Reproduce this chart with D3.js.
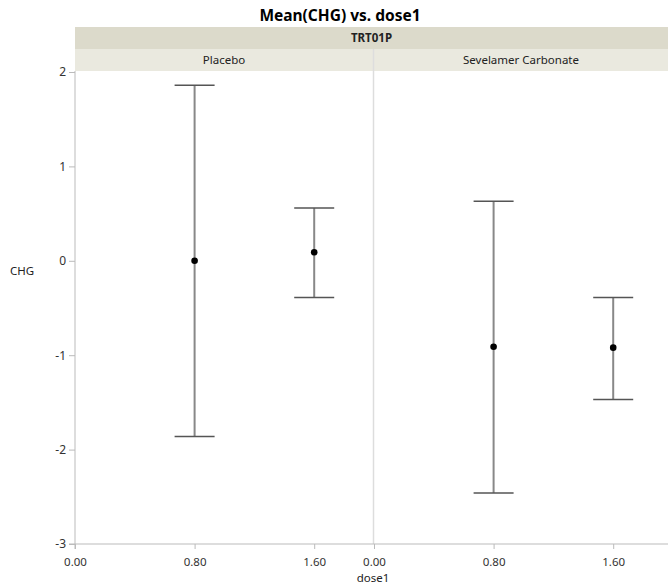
<!DOCTYPE html>
<html>
<head>
<meta charset="utf-8">
<script src="https://cdn.jsdelivr.net/npm/d3@7"></script>
<style>
  body { margin: 0; background: #fff; }
  text { font-family: 'Noto Sans', sans-serif; fill: #222; }
</style>
</head>
<body>
<div id="chart"></div>
<script>
let groups = ['Placebo', 'Sevelamer Carbonate']
let doses = [0.8, 1.6]
let means = [[0.0, 0.09], [-0.91, -0.92]]
let upper = [[1.86, 0.56], [0.63, -0.39]]
let lower = [[-1.86, -0.39], [-2.46, -1.47]]
let xTicks = [0, 0.8, 1.6]
let yTicks = [2, 1, 0, -1, -2, -3]

let width = 668
let height = 586
let margin = { top: 71, left: 75, right: 0, bottom: 42 }
let plotW = width - margin.left - margin.right
let plotH = height - margin.top - margin.bottom
let panelLeft = [75, 374]
let panelRight = [373, 668]

let svg = d3.select('#chart').append('svg')
  .attr('width', width)
  .attr('height', height)

// title
svg.append('text')
  .attr('x', 340).attr('y', 21)
  .attr('text-anchor', 'middle')
  .attr('font-weight', 'bold')
  .attr('font-size', 15.5)
  .style('fill', '#000')
  .text('Mean(CHG) vs. dose1')

// header bands
svg.append('rect')
  .attr('x', margin.left).attr('y', 27)
  .attr('width', plotW).attr('height', 22)
  .attr('fill', '#dcdacb')
svg.append('text')
  .attr('x', margin.left + plotW / 2).attr('y', 42)
  .attr('text-anchor', 'middle')
  .attr('font-weight', 'bold')
  .attr('font-size', 11.5)
  .text('TRT01P')

let y = d3.scaleLinear().domain([-3, 2]).range([margin.top + plotH, margin.top + 1])
let fmtY = d => d3.format('d')(d).replace('−', '-')

let g = svg.append('g')

groups.forEach((name, i) => {
  let x0 = panelLeft[i]
  let x = d3.scaleLinear().domain([0, 2]).range([x0, x0 + 299])

  g.append('rect')
    .attr('x', x0 - (i ? 1 : 0)).attr('y', 49)
    .attr('width', panelRight[i] - x0 + (i ? 1 : 0)).attr('height', 22)
    .attr('fill', '#eae9df')
  g.append('text')
    .attr('x', (x0 + panelRight[i]) / 2).attr('y', 64)
    .attr('text-anchor', 'middle')
    .attr('font-size', 11.5)
    .text(name)

  // x axis
  let xAxis = d3.axisBottom(x)
    .tickValues(xTicks)
    .tickSize(5)
    .tickFormat(d3.format('.2f'))
  let ax = g.append('g')
    .attr('transform', 'translate(0,' + (margin.top + plotH) + ')')
    .call(xAxis)
  ax.select('.domain').remove()
  ax.selectAll('line').attr('stroke', '#bbb')
  ax.selectAll('text').attr('font-size', 11.5).attr('dy', '1.2em').style('fill', '#333')

  // error bars
  doses.forEach((d, j) => {
    let cx = x(d)
    g.append('line')
      .attr('x1', cx).attr('x2', cx)
      .attr('y1', y(upper[i][j])).attr('y2', y(lower[i][j]))
      .attr('stroke', '#888').attr('stroke-width', 2)
    ;[upper[i][j], lower[i][j]].forEach(v => {
      g.append('line')
        .attr('x1', cx - 20).attr('x2', cx + 20)
        .attr('y1', y(v)).attr('y2', y(v))
        .attr('stroke', '#555').attr('stroke-width', 1.5)
    })
    g.append('circle')
      .attr('cx', cx).attr('cy', y(means[i][j]))
      .attr('r', 3.3)
      .attr('fill', '#000')
  })
})

// panel divider
svg.append('line')
  .attr('x1', 373.5).attr('x2', 373.5)
  .attr('y1', 49).attr('y2', margin.top + plotH)
  .attr('stroke', '#ddd').attr('stroke-width', 1.5)

// y axis
let yAxis = d3.axisLeft(y).tickValues(yTicks).tickSize(6).tickFormat(fmtY)
let ay = svg.append('g')
  .attr('transform', 'translate(' + margin.left + ',0)')
  .call(yAxis)
ay.select('.domain').remove()
ay.selectAll('line').attr('stroke', '#bbb')
ay.selectAll('text').attr('font-size', 12).attr('x', -9).style('fill', '#333')

svg.append('line')
  .attr('x1', margin.left).attr('x2', margin.left)
  .attr('y1', margin.top).attr('y2', margin.top + plotH + 5)
  .attr('stroke', '#bbb').attr('stroke-width', 1)
svg.append('line')
  .attr('x1', margin.left - 6).attr('x2', width)
  .attr('y1', margin.top + plotH).attr('y2', margin.top + plotH)
  .attr('stroke', '#bbb').attr('stroke-width', 1)

// axis titles
svg.append('text')
  .attr('x', 22).attr('y', 275)
  .attr('text-anchor', 'middle')
  .attr('font-size', 11.5)
  .text('CHG')
svg.append('text')
  .attr('x', 373).attr('y', 582)
  .attr('text-anchor', 'middle')
  .attr('font-size', 11.5)
  .text('dose1')
</script>
</body>
</html>
